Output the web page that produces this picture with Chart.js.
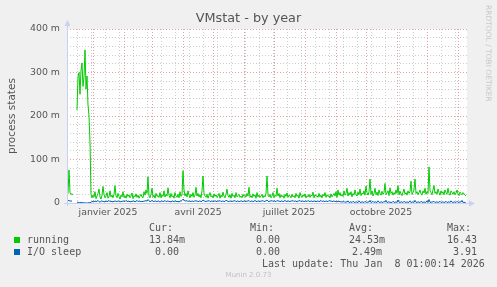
<!DOCTYPE html>
<html><head><meta charset="utf-8">
<script src="https://cdn.jsdelivr.net/npm/chart.js@4.4.1/dist/chart.umd.min.js"></script>
<style>
html,body{margin:0;padding:0;background:#f0f0f0;}
#wrap{position:relative;width:497px;height:287px;overflow:hidden;background:#f0f0f0;}
canvas{position:absolute;left:0;top:0;}
.t{position:absolute;white-space:pre;font-family:"DejaVu Sans Mono",monospace;font-size:10px;line-height:12px;color:#555;}
.sq{position:absolute;width:6px;height:6px;}
</style></head><body>
<div id="wrap">
<canvas id="c" width="497" height="287"></canvas>
<div class="t" style="left:0;width:497px;text-align:center;top:10px;font-family:'DejaVu Sans';font-size:12.8px;line-height:16px;color:#555">VMstat - by year</div>
<div class="t" style="left:480px;top:5px;font-family:'DejaVu Sans';font-size:7.5px;line-height:8px;color:#c8c8c8;transform-origin:0 0;transform:translate(12px,0) rotate(90deg);">RRDTOOL / TOBI OETIKER</div>
<div class="sq" style="left:14px;top:237px;background:#00cc00"></div>
<div class="sq" style="left:14px;top:249px;background:#0066b3"></div>
<div class="t" style="left:149px;top:221.5px">Cur:</div>
<div class="t" style="left:250px;top:221.5px">Min:</div>
<div class="t" style="left:349px;top:221.5px">Avg:</div>
<div class="t" style="left:447px;top:221.5px">Max:</div>
<div class="t" style="left:27px;top:233.5px">running</div>
<div class="t" style="left:149px;top:233.5px">13.84m</div>
<div class="t" style="left:256px;top:233.5px">0.00</div>
<div class="t" style="left:349px;top:233.5px">24.53m</div>
<div class="t" style="left:447px;top:233.5px">16.43</div>
<div class="t" style="left:27px;top:245.5px">I/O sleep</div>
<div class="t" style="left:155px;top:245.5px">0.00</div>
<div class="t" style="left:256px;top:245.5px">0.00</div>
<div class="t" style="left:352px;top:245.5px">2.49m</div>
<div class="t" style="left:453px;top:245.5px">3.91</div>
<div class="t" style="left:262px;top:257.5px">Last update: Thu Jan  8 01:00:14 2026</div>
<div class="t" style="left:0;width:497px;text-align:center;top:271px;font-family:'DejaVu Sans';font-size:7px;line-height:9px;color:#c0c0c0">Munin 2.0.73</div>
</div>
<script>
// day offsets from 6 Dec 2024 (one point per day)
const running = [
18,22,76,24,20,21,19,null,null,null,
214,290,300,250,305,322,268,290,352,262,292,225,200,140,20,
12,18,14,26,10,16,22,32,14,9,18,38,20,12,16,24,11,15,28,14,18,12,20,40,16,
12,22,15,9,18,14,26,13,17,11,20,15,19,12,16,23,10,17,14,21,13,18,11,16,20,
14,12,26,18,30,22,60,16,12,20,34,14,18,11,22,15,17,13,24,12,19,15,28,14,20,
16,35,18,12,22,14,17,11,24,16,13,20,12,26,15,18,74,30,16,22,14,28,18,12,20,
15,24,13,18,36,16,22,14,19,12,28,62,22,16,13,20,11,18,24,14,17,12,21,15,19,
13,16,22,11,18,14,25,16,12,20,32,17,13,19,11,22,15,18,12,24,14,17,20,13,16,
12,20,15,18,14,22,16,36,13,17,12,21,15,19,11,24,14,18,13,16,20,12,17,14,22,
62,18,14,20,12,16,24,13,18,15,34,16,22,12,19,14,17,11,20,15,23,13,18,16,12,
20,14,17,12,22,15,18,11,24,16,13,19,15,21,12,17,14,20,13,18,16,25,12,19,15,
17,13,22,14,18,12,20,16,24,13,19,15,17,12,21,14,18,22,16,26,13,30,18,24,16,
20,15,28,18,22,34,16,24,19,26,14,22,18,30,20,16,25,19,32,17,23,20,28,18,39,
24,18,26,55,20,28,16,22,34,19,25,17,30,22,18,27,20,24,45,19,23,28,17,35,22,
26,18,24,20,30,22,40,19,27,21,17,25,32,20,24,18,28,22,26,50,20,24,30,55,22,
26,19,24,30,21,18,28,23,34,20,26,22,83,28,24,19,30,40,22,26,20,32,24,18,28,
22,26,19,30,24,20,34,22,18,28,24,20,26,19,23,30,21,17,25,22,19,24,21,18,16
];
const ioSleep = [
5,6,5,5,4,5,null,null,null,null,
1,2,1,0,2,1,0,1,0,0,0,0,1,0,2,
3,4,2,5,3,4,6,3,2,4,5,3,4,2,5,3,4,6,3,5,2,4,3,5,4,
3,5,4,2,4,3,5,4,3,6,4,3,5,2,4,3,5,4,3,4,6,3,5,4,3,
4,3,5,4,6,4,8,5,3,4,6,4,3,5,4,3,5,4,2,4,5,3,4,6,3,
4,5,3,4,2,5,4,3,5,4,3,4,2,5,4,6,9,7,5,4,6,3,5,4,3,
5,4,3,6,4,5,3,4,5,3,4,7,5,4,3,5,4,6,3,4,5,3,4,5,4,
3,5,4,6,3,4,5,3,4,6,5,4,3,5,4,3,5,4,6,3,4,5,3,4,5,
4,3,5,4,3,5,4,6,3,4,5,3,4,6,4,3,5,4,3,5,4,6,3,4,5,
7,4,3,5,4,6,3,5,4,3,6,4,5,3,4,5,3,4,6,4,3,5,4,3,5,
4,6,3,5,4,3,5,4,6,3,4,5,3,4,5,3,6,4,3,5,4,3,5,4,3,
4,5,3,4,6,3,5,4,3,5,4,3,6,4,5,3,4,5,3,4,2,5,3,4,2,
3,2,4,1,3,2,5,1,2,3,1,4,2,1,3,2,1,5,2,1,3,2,1,4,2,
1,3,2,6,1,2,4,1,3,2,1,5,2,1,3,2,1,4,2,6,1,2,3,1,2,
1,4,2,1,3,1,7,2,1,3,2,1,4,2,1,3,1,2,5,1,2,3,1,6,2,
1,3,2,1,4,2,1,3,1,2,5,1,8,2,1,3,2,4,1,2,3,1,2,4,1,
2,3,1,2,4,1,2,3,1,5,2,1,3,2,1,4,2,1,3,2,6,1,2,1,0
];
const monthStarts = [26,57,85,116,146,177,207,238,269,299,330,360,391];
const labelDays = [41,131,222,314];
const labelTexts = ['janvier 2025','avril 2025','juillet 2025','octobre 2025'];
const yTicks = [0,100,200,300,400];

// minor grid every two weeks (Mondays), first at day 10
const weekDays = [];
for (let d = 10; d < 400; d += 14) if (!monthStarts.includes(d)) weekDays.push(d);

const pts = arr => arr.map((v,i)=>({x:i,y:v}));
const RED='rgba(225,150,150,0.9)', GRAY='rgba(200,200,200,0.9)', AXIS='#c9d0f2', NONE='rgba(0,0,0,0)';

const bgPlugin={id:'bg',beforeDraw(ch){const a=ch.chartArea,c=ch.ctx;c.save();c.fillStyle='#f0f0f0';c.fillRect(0,0,ch.width,ch.height);c.fillStyle='#fff';c.fillRect(a.left,a.top,a.right-a.left,a.bottom-a.top);c.restore();},
afterDraw(ch){const a=ch.chartArea,c=ch.ctx;c.save();c.strokeStyle=AXIS;c.fillStyle=AXIS;c.lineWidth=1;
c.beginPath();c.moveTo(a.left+0.5,a.bottom+3);c.lineTo(a.left+0.5,a.top-5);c.stroke();
c.beginPath();c.moveTo(a.left-2.5,a.top-3);c.lineTo(a.left+3.5,a.top-3);c.lineTo(a.left+0.5,a.top-9);c.closePath();c.fill();
c.beginPath();c.moveTo(a.left-3,a.bottom+0.5);c.lineTo(a.right+3,a.bottom+0.5);c.stroke();
c.beginPath();c.moveTo(a.right+2,a.bottom-2.5);c.lineTo(a.right+2,a.bottom+3.5);c.lineTo(a.right+8,a.bottom+0.5);c.closePath();c.fill();
c.restore();}};

new Chart(document.getElementById('c'),{
type:'line',
data:{datasets:[
{label:'running',data:pts(running),borderColor:'#00cc00',borderWidth:1,pointRadius:0,spanGaps:false,order:1},
{label:'I/O sleep',data:pts(ioSleep),borderColor:'#0066b3',borderWidth:1,pointRadius:0,spanGaps:false,order:0}
]},
options:{responsive:false,animation:false,devicePixelRatio:1,
layout:{padding:{left:0,top:29,right:30,bottom:0}},
plugins:{legend:{display:false},tooltip:{enabled:false}},
scales:{
x:{type:'linear',min:0,max:400,
afterFit(s){s.height=84;},
afterBuildTicks(s){s.ticks=weekDays.concat(monthStarts).concat(labelDays).map(v=>({value:v}));},
grid:{drawTicks:false,color:c=>monthStarts.includes(c.tick.value)?RED:(weekDays.includes(c.tick.value)?GRAY:NONE)},
border:{display:false,dash:[1,2]},
ticks:{autoSkip:false,maxRotation:0,padding:4,color:'#555',font:{family:'DejaVu Sans',size:9.4},
callback:v=>{const k=labelDays.indexOf(v);return k>=0?labelTexts[k]:'';}}},
y:{min:0,max:400,
afterFit(s){s.width=67;},
title:{display:true,text:'process states',color:'#555',font:{family:'DejaVu Sans',size:10.5},padding:{top:6,bottom:6}},
grid:{drawTicks:false,color:c=>c.tick.value%100===0?RED:GRAY},
border:{display:false,dash:[1,2]},
ticks:{autoSkip:false,stepSize:20,padding:7,color:'#555',font:{family:'DejaVu Sans',size:9.4},
callback:v=>yTicks.includes(v)?(v===0?'0':v+' m'):''}}
}},
plugins:[bgPlugin]
});
</script>
</body></html>
